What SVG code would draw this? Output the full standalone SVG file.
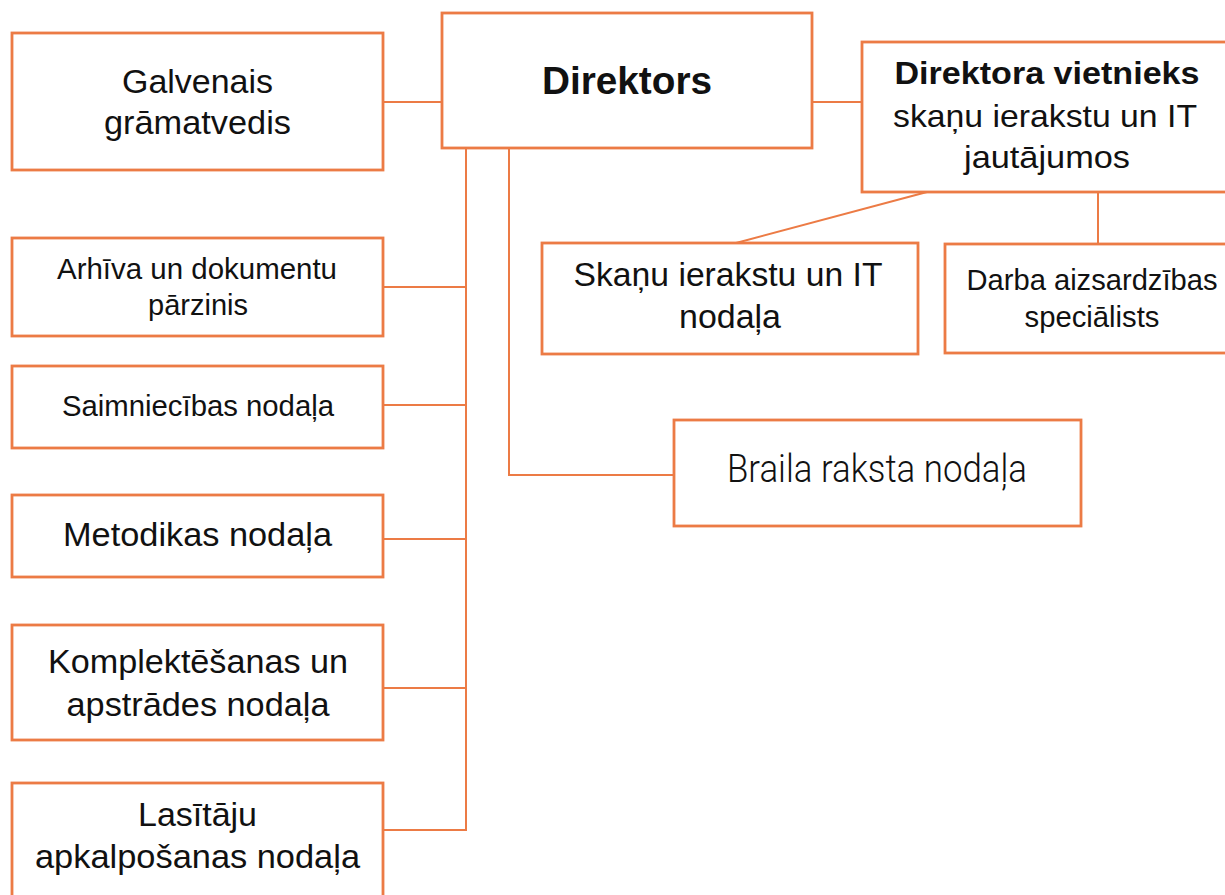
<svg xmlns="http://www.w3.org/2000/svg" width="1225" height="895" viewBox="0 0 1225 895">
<style>
.box{fill:#ffffff;stroke:#EC7B45;stroke-width:2.8}
.ln{fill:none;stroke:#EC7B45;stroke-width:2}
text{font-family:"Liberation Sans",Arial,sans-serif;fill:#111111;text-anchor:middle}
.b{font-weight:bold}
.n{font-family:"Liberation Sans Narrow","Liberation Sans",Arial,sans-serif}
.t{font-family:Roboto,"Liberation Sans",sans-serif;font-weight:300}
</style>
<rect width="1225" height="895" fill="#ffffff"/>
<g id="connectors">
<line class="ln" x1="383" y1="102" x2="442" y2="102"/>
<line class="ln" x1="812" y1="102" x2="862" y2="102"/>
<polyline class="ln" points="466,148 466,830 383,830"/>
<line class="ln" x1="383" y1="287" x2="466" y2="287"/>
<line class="ln" x1="383" y1="405" x2="466" y2="405"/>
<line class="ln" x1="383" y1="539" x2="466" y2="539"/>
<line class="ln" x1="383" y1="688" x2="466" y2="688"/>
<polyline class="ln" points="509,148 509,475 674,475"/>
<line class="ln" x1="927" y1="192" x2="736" y2="243"/>
<line class="ln" x1="1098" y1="192" x2="1098" y2="244"/>
</g>
<g id="galvenais">
<rect class="box" x="12" y="33" width="371" height="137"/>
<text x="197.5" y="93" font-size="33" textLength="151" lengthAdjust="spacingAndGlyphs">Galvenais</text>
<text x="197.5" y="134" font-size="33" textLength="187" lengthAdjust="spacingAndGlyphs">grāmatvedis</text>
</g>
<g id="direktors">
<rect class="box" x="442" y="13" width="370" height="135"/>
<text class="b" x="627" y="94" font-size="39" textLength="170" lengthAdjust="spacingAndGlyphs">Direktors</text>
</g>
<g id="vietnieks">
<rect class="box" x="862" y="42" width="370" height="150"/>
<text class="b n" x="1047" y="84" font-size="32" textLength="305" lengthAdjust="spacingAndGlyphs">Direktora vietnieks</text>
<text class="n" x="1045" y="127" font-size="32" textLength="304" lengthAdjust="spacingAndGlyphs">skaņu ierakstu un IT</text>
<text class="n" x="1047" y="168" font-size="32" textLength="166" lengthAdjust="spacingAndGlyphs">jautājumos</text>
</g>
<g id="skanu">
<rect class="box" x="542" y="243" width="376" height="111"/>
<text class="n" x="728" y="286" font-size="33" textLength="309" lengthAdjust="spacingAndGlyphs">Skaņu ierakstu un IT</text>
<text class="n" x="730" y="328" font-size="33" textLength="102" lengthAdjust="spacingAndGlyphs">nodaļa</text>
</g>
<g id="darba">
<rect class="box" x="945" y="244" width="300" height="109"/>
<text class="n" x="1092" y="290" font-size="30" textLength="251" lengthAdjust="spacingAndGlyphs">Darba aizsardzības</text>
<text class="n" x="1092" y="327" font-size="30" textLength="135" lengthAdjust="spacingAndGlyphs">speciālists</text>
</g>
<g id="braila">
<rect class="box" x="674" y="420" width="407" height="106"/>
<text class="t" x="877" y="482" font-size="38" textLength="300" lengthAdjust="spacingAndGlyphs">Braila raksta nodaļa</text>
</g>
<g id="arhiva">
<rect class="box" x="12" y="238" width="371" height="98"/>
<text x="197" y="279" font-size="29" textLength="280" lengthAdjust="spacingAndGlyphs">Arhīva un dokumentu</text>
<text x="198" y="315" font-size="29" textLength="100" lengthAdjust="spacingAndGlyphs">pārzinis</text>
</g>
<g id="saimniecibas">
<rect class="box" x="12" y="366" width="371" height="82"/>
<text x="198" y="416" font-size="29" textLength="272" lengthAdjust="spacingAndGlyphs">Saimniecības nodaļa</text>
</g>
<g id="metodikas">
<rect class="box" x="12" y="495" width="371" height="82"/>
<text x="197.5" y="546" font-size="34" textLength="269" lengthAdjust="spacingAndGlyphs">Metodikas nodaļa</text>
</g>
<g id="komplektesanas">
<rect class="box" x="12" y="625" width="371" height="115"/>
<text x="198" y="673" font-size="34" textLength="300" lengthAdjust="spacingAndGlyphs">Komplektēšanas un</text>
<text x="198" y="716" font-size="34" textLength="263" lengthAdjust="spacingAndGlyphs">apstrādes nodaļa</text>
</g>
<g id="lasitaju">
<rect class="box" x="12" y="783" width="371" height="130"/>
<text x="197.5" y="826" font-size="34" textLength="119" lengthAdjust="spacingAndGlyphs">Lasītāju</text>
<text x="197.5" y="868" font-size="34" textLength="325" lengthAdjust="spacingAndGlyphs">apkalpošanas nodaļa</text>
</g>
</svg>
